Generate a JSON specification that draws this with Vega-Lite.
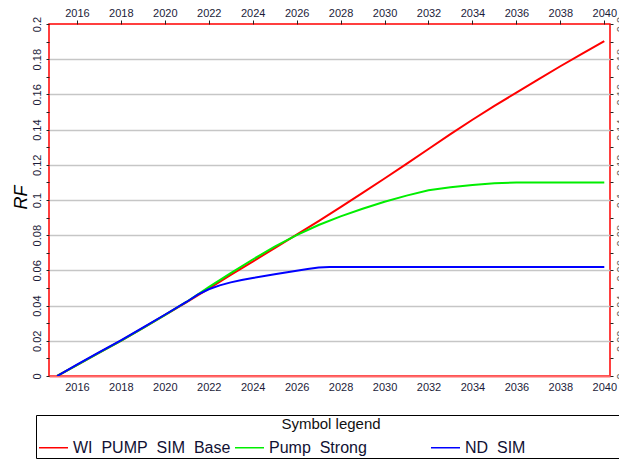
{
  "$schema": "https://vega.github.io/schema/vega-lite/v6.json",
  "width": 561,
  "height": 352,
  "autosize": {"type": "none"},
  "padding": {"left": 49, "top": 24, "right": 9, "bottom": 84},
  "background": "white",
  "config": {
    "font": "Liberation Sans",
    "view": {"stroke": "#ff0000", "strokeWidth": 1.5},
    "axis": {"labelFont": "Liberation Sans", "labelFontSize": 11, "labelColor": "#1c1c3a", "tickColor": "#222222", "tickSize": 3, "domain": false}
  },
  "data": {"values": [
    {"year": 2015.1, "rf": 0.0, "series": "WI  PUMP  SIM  Base"},
    {"year": 2016, "rf": 0.0062, "series": "WI  PUMP  SIM  Base"},
    {"year": 2017, "rf": 0.0132, "series": "WI  PUMP  SIM  Base"},
    {"year": 2018, "rf": 0.0200, "series": "WI  PUMP  SIM  Base"},
    {"year": 2019, "rf": 0.0272, "series": "WI  PUMP  SIM  Base"},
    {"year": 2020, "rf": 0.0346, "series": "WI  PUMP  SIM  Base"},
    {"year": 2021, "rf": 0.0420, "series": "WI  PUMP  SIM  Base"},
    {"year": 2022, "rf": 0.0497, "series": "WI  PUMP  SIM  Base"},
    {"year": 2023, "rf": 0.0574, "series": "WI  PUMP  SIM  Base"},
    {"year": 2024, "rf": 0.0650, "series": "WI  PUMP  SIM  Base"},
    {"year": 2025, "rf": 0.0727, "series": "WI  PUMP  SIM  Base"},
    {"year": 2026, "rf": 0.0803, "series": "WI  PUMP  SIM  Base"},
    {"year": 2027, "rf": 0.0880, "series": "WI  PUMP  SIM  Base"},
    {"year": 2028, "rf": 0.0960, "series": "WI  PUMP  SIM  Base"},
    {"year": 2029, "rf": 0.1040, "series": "WI  PUMP  SIM  Base"},
    {"year": 2030, "rf": 0.1122, "series": "WI  PUMP  SIM  Base"},
    {"year": 2031, "rf": 0.1205, "series": "WI  PUMP  SIM  Base"},
    {"year": 2032, "rf": 0.1290, "series": "WI  PUMP  SIM  Base"},
    {"year": 2033, "rf": 0.1374, "series": "WI  PUMP  SIM  Base"},
    {"year": 2034, "rf": 0.1456, "series": "WI  PUMP  SIM  Base"},
    {"year": 2035, "rf": 0.1535, "series": "WI  PUMP  SIM  Base"},
    {"year": 2036, "rf": 0.1610, "series": "WI  PUMP  SIM  Base"},
    {"year": 2037, "rf": 0.1685, "series": "WI  PUMP  SIM  Base"},
    {"year": 2038, "rf": 0.1760, "series": "WI  PUMP  SIM  Base"},
    {"year": 2039, "rf": 0.1832, "series": "WI  PUMP  SIM  Base"},
    {"year": 2040, "rf": 0.1903, "series": "WI  PUMP  SIM  Base"},
    {"year": 2015.1, "rf": 0.0, "series": "Pump  Strong"},
    {"year": 2016, "rf": 0.0062, "series": "Pump  Strong"},
    {"year": 2017, "rf": 0.0132, "series": "Pump  Strong"},
    {"year": 2018, "rf": 0.0200, "series": "Pump  Strong"},
    {"year": 2019, "rf": 0.0272, "series": "Pump  Strong"},
    {"year": 2020, "rf": 0.0346, "series": "Pump  Strong"},
    {"year": 2021, "rf": 0.0422, "series": "Pump  Strong"},
    {"year": 2022, "rf": 0.0505, "series": "Pump  Strong"},
    {"year": 2023, "rf": 0.0585, "series": "Pump  Strong"},
    {"year": 2024, "rf": 0.0662, "series": "Pump  Strong"},
    {"year": 2025, "rf": 0.0735, "series": "Pump  Strong"},
    {"year": 2026, "rf": 0.0800, "series": "Pump  Strong"},
    {"year": 2027, "rf": 0.0858, "series": "Pump  Strong"},
    {"year": 2028, "rf": 0.0907, "series": "Pump  Strong"},
    {"year": 2029, "rf": 0.0950, "series": "Pump  Strong"},
    {"year": 2030, "rf": 0.0990, "series": "Pump  Strong"},
    {"year": 2031, "rf": 0.1025, "series": "Pump  Strong"},
    {"year": 2032, "rf": 0.1055, "series": "Pump  Strong"},
    {"year": 2033, "rf": 0.1072, "series": "Pump  Strong"},
    {"year": 2034, "rf": 0.1085, "series": "Pump  Strong"},
    {"year": 2035, "rf": 0.1095, "series": "Pump  Strong"},
    {"year": 2036, "rf": 0.1100, "series": "Pump  Strong"},
    {"year": 2037, "rf": 0.1100, "series": "Pump  Strong"},
    {"year": 2038, "rf": 0.1100, "series": "Pump  Strong"},
    {"year": 2039, "rf": 0.1100, "series": "Pump  Strong"},
    {"year": 2040, "rf": 0.1100, "series": "Pump  Strong"},
    {"year": 2015.1, "rf": 0.0, "series": "ND  SIM"},
    {"year": 2016, "rf": 0.0064, "series": "ND  SIM"},
    {"year": 2017, "rf": 0.0134, "series": "ND  SIM"},
    {"year": 2018, "rf": 0.0203, "series": "ND  SIM"},
    {"year": 2019, "rf": 0.0275, "series": "ND  SIM"},
    {"year": 2020, "rf": 0.0348, "series": "ND  SIM"},
    {"year": 2021, "rf": 0.0422, "series": "ND  SIM"},
    {"year": 2021.5, "rf": 0.0462, "series": "ND  SIM"},
    {"year": 2022, "rf": 0.0493, "series": "ND  SIM"},
    {"year": 2022.5, "rf": 0.0515, "series": "ND  SIM"},
    {"year": 2023, "rf": 0.0532, "series": "ND  SIM"},
    {"year": 2023.5, "rf": 0.0546, "series": "ND  SIM"},
    {"year": 2024, "rf": 0.0557, "series": "ND  SIM"},
    {"year": 2025, "rf": 0.0578, "series": "ND  SIM"},
    {"year": 2026, "rf": 0.0598, "series": "ND  SIM"},
    {"year": 2026.5, "rf": 0.0608, "series": "ND  SIM"},
    {"year": 2027, "rf": 0.0616, "series": "ND  SIM"},
    {"year": 2027.5, "rf": 0.0619, "series": "ND  SIM"},
    {"year": 2028, "rf": 0.0620, "series": "ND  SIM"},
    {"year": 2030, "rf": 0.0620, "series": "ND  SIM"},
    {"year": 2035, "rf": 0.0620, "series": "ND  SIM"},
    {"year": 2040, "rf": 0.0620, "series": "ND  SIM"}
  ]},
  "layer": [
    {
      "mark": {"type": "line", "strokeWidth": 2, "clip": true},
      "encoding": {
        "x": {"field": "year", "type": "quantitative",
          "scale": {"domain": [2014.73, 2040.26], "nice": false, "zero": false},
          "axis": {"orient": "bottom", "title": null, "values": [2016,2018,2020,2022,2024,2026,2028,2030,2032,2034,2036,2038,2040], "format": "d", "ticks": false, "labelPadding": 5, "domain": true, "domainColor": "#ff6a6a", "domainWidth": 2, "grid": false}},
        "y": {"field": "rf", "type": "quantitative",
          "scale": {"domain": [0, 0.2], "nice": false},
          "axis": {"orient": "left", "title": "RF", "titleFont": "Liberation Sans", "titleFontSize": 18, "titleFontStyle": "italic", "titleFontWeight": "normal", "titleColor": "#000000", "titleAngle": -90, "titleAlign": "center", "titleBaseline": "middle", "titleX": -28, "titleY": 173,
            "values": [0,0.01,0.02,0.03,0.04,0.05,0.06,0.07,0.08,0.09,0.1,0.11,0.12,0.13,0.14,0.15,0.16,0.17,0.18,0.19,0.2],
            "labelExpr": "round(datum.value*100) % 2 == 0 ? format(datum.value, '.2~f') : ''",
            "labelAngle": -90, "labelAlign": "center", "labelBaseline": "bottom", "labelPadding": 4,
            "grid": true, "gridColor": "#c6c6c6", "gridWidth": 1.5,
            "gridOpacity": {"condition": {"test": "round(datum.value*100) % 2 == 0 && datum.value > 0.001 && datum.value < 0.199", "value": 1}, "value": 0}}},
        "color": {"field": "series", "type": "nominal",
          "scale": {"domain": ["WI  PUMP  SIM  Base", "Pump  Strong", "ND  SIM"], "range": ["#ff0000", "#00ee00", "#0000ff"]},
          "legend": {"orient": "none", "legendX": -13, "legendY": 391, "direction": "horizontal", "columns": 3, "gridAlign": "all", "columnPadding": 0,
            "title": "Symbol legend", "titleAnchor": "middle", "titleFont": "Liberation Sans", "titleFontSize": 15, "titleFontWeight": "normal", "titleColor": "#111111", "titlePadding": 0,
            "labelFont": "Liberation Sans", "labelFontSize": 16, "labelColor": "#111133", "labelOffset": 4, "labelLimit": 400,
            "symbolType": "stroke", "symbolSize": 841, "symbolStrokeWidth": 1.5,
            "strokeColor": "#000000", "fillColor": "#ffffff", "padding": 2,
            "labelExpr": "indexof(datum.label, 'ND') == 0 ? replace(datum.label, regexp(' ', 'g'), '\u00a0') + '\u00a0\u00a0\u00a0\u00a0\u00a0\u00a0\u00a0\u00a0\u00a0\u00a0\u00a0\u00a0\u00a0\u00a0\u00a0\u00a0\u00a0\u00a0\u00a0\u00a0\u00a0\u00a0\u200b' : replace(datum.label, regexp(' ', 'g'), '\u00a0')"}
        }
      }
    },
    {
      "mark": {"type": "line", "opacity": 0},
      "encoding": {
        "x": {"field": "year", "type": "quantitative",
          "axis": {"orient": "top", "title": null, "values": [2016,2018,2020,2022,2024,2026,2028,2030,2032,2034,2036,2038,2040], "format": "d", "ticks": true, "tickSize": 4, "labelPadding": 2, "grid": false}},
        "y": {"field": "rf", "type": "quantitative",
          "axis": {"orient": "right", "title": null, "grid": false,
            "values": [0,0.01,0.02,0.03,0.04,0.05,0.06,0.07,0.08,0.09,0.1,0.11,0.12,0.13,0.14,0.15,0.16,0.17,0.18,0.19,0.2],
            "labelExpr": "round(datum.value*100) % 2 == 0 ? format(datum.value, '.2~f') : ''",
            "labelAngle": -90, "labelAlign": "center", "labelBaseline": "top", "labelPadding": 2, "labelColor": "#666666"}},
        "detail": {"field": "series", "type": "nominal"}
      }
    }
  ],
  "resolve": {"axis": {"x": "independent", "y": "independent"}}
}
